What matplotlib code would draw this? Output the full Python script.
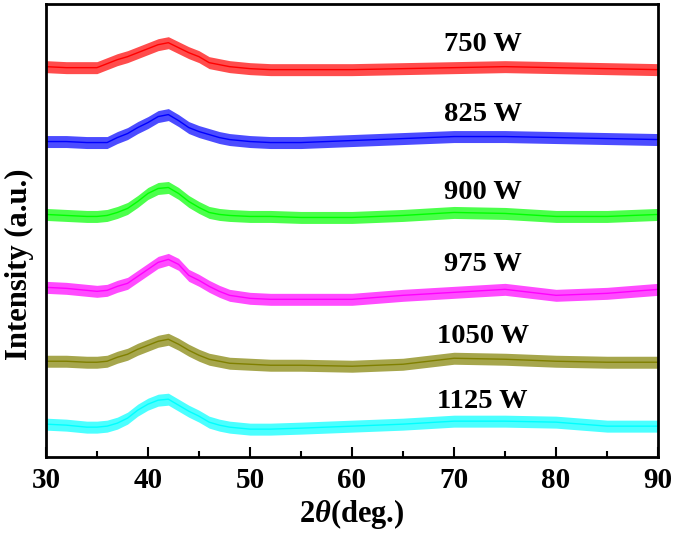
import matplotlib
matplotlib.use('Agg')
import matplotlib.pyplot as plt
from matplotlib.ticker import MultipleLocator

# Text format: bold Times-like serif
plt.rcParams['font.family'] = 'Liberation Serif'
plt.rcParams['font.weight'] = 'bold'
plt.rcParams['mathtext.fontset'] = 'custom'
plt.rcParams['mathtext.it'] = 'Liberation Serif:bold:italic'
plt.rcParams['mathtext.rm'] = 'Liberation Serif:bold'

# 2-theta positions where the traces were read
two_theta = [30, 32, 34, 35, 36, 37, 38, 39, 40, 41, 42, 43, 44, 45, 46, 47, 48,
             50, 52, 55, 60, 65, 70, 75, 80, 85, 90]

# Stacked intensity traces (a.u., offsets included)
i_750 = [391, 390, 390, 390, 394, 398, 401, 405, 409, 413, 415, 410, 405, 401, 395, 393, 391,
         389, 388, 388, 388, 389, 390, 391, 390, 389, 388]
i_825 = [316, 316, 315, 315, 315, 320, 324, 330, 335, 341, 343, 337, 330, 326, 323, 320, 318,
         316, 315, 315, 317, 319, 321, 321, 320, 319, 318]
i_900 = [243, 242, 241, 241, 242, 245, 249, 256, 264, 269, 270, 264, 256, 250, 245, 243, 242,
         241, 241, 240, 240, 242, 245, 244, 241, 241, 243]
i_975 = [170, 169, 167, 166, 167, 171, 174, 181, 188, 195, 198, 193, 182, 177, 171, 166, 162,
         159, 158, 158, 158, 162, 165, 168, 162, 164, 168]
i_1050 = [96, 96, 95, 95, 96, 100, 103, 108, 112, 116, 118, 113, 107, 102, 98, 96, 94,
          93, 92, 92, 91, 93, 99, 98, 96, 95, 95]
i_1125 = [33, 32, 30, 30, 31, 34, 39, 47, 53, 57, 58, 52, 46, 41, 35, 32, 30,
          28, 28, 29, 31, 33, 36, 36, 35, 31, 31]

# Half-width of the noise band on each trace
noise = [6, 6, 6, 6, 6, 6]

labels = ['750 W', '825 W', '900 W', '975 W', '1050 W', '1125 W']
label_y = [413, 343, 265, 193, 121, 56]
colors = ['#ff0000', '#0000ff', '#00ff00', '#ff00ff', '#808000', '#00ffff']
traces = [i_750, i_825, i_900, i_975, i_1050, i_1125]

fig = plt.figure(figsize=(6.75, 5.34), dpi=100)
ax = fig.add_axes([0.068, 0.144, 0.907, 0.849])

for vals, amp, col, lab, ly in zip(traces, noise, colors, labels, label_y):
    lo = [v - amp for v in vals]
    hi = [v + amp for v in vals]
    ax.fill_between(two_theta, lo, hi, color=col, alpha=0.7, linewidth=0)
    ax.plot(two_theta, vals, color=col, linewidth=1.0)
    ax.text(72.8, ly, lab, ha='center', va='center', fontsize=20.5, fontweight='bold')

ax.set_xlim(30, 90)
ax.set_ylim(0, 454)
ax.xaxis.set_major_locator(MultipleLocator(10))
ax.xaxis.set_minor_locator(MultipleLocator(5))
ax.tick_params(axis='x', which='major', direction='in', length=7, width=1.5,
               labelsize=21, pad=7)
ax.tick_params(axis='x', which='minor', direction='in', length=4, width=1.5)
ax.set_yticks([])
for sp in ax.spines.values():
    sp.set_linewidth(2)

ax.set_xlabel(r'2$\mathit{\theta}$(deg.)', fontsize=22, fontweight='bold', labelpad=2)
ax.set_ylabel('Intensity (a.u.)', fontsize=22, fontweight='bold')
ax.yaxis.set_label_coords(-0.02, 0.425)

fig.savefig('out.png', dpi=100)
